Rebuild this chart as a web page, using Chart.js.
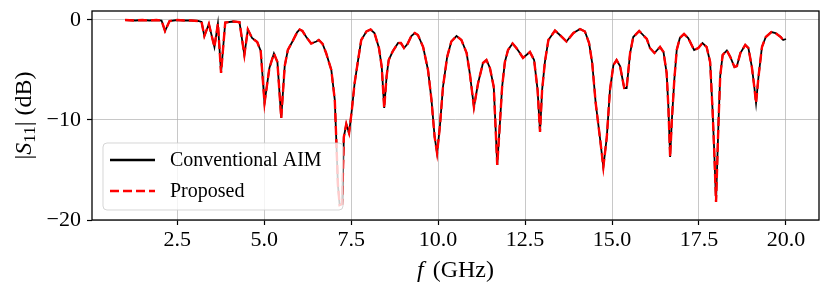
<!DOCTYPE html>
<html>
<head>
<meta charset="utf-8">
<script src="https://cdn.jsdelivr.net/npm/chart.js@4.4.1/dist/chart.umd.min.js"></script>
<style>
    html, body { margin: 0; padding: 0; background: #fff; }
    #wrap { width: 830px; height: 293px; }
</style>
</head>
<body>
<div id="wrap"><canvas id="s11Chart" width="830" height="293"></canvas></div>
<script>
// Frecuencias (GHz)
const freqs = [
    1.0, 1.3, 1.5, 1.7, 1.9, 2.05, 2.15, 2.28, 2.5, 2.7, 2.9, 3.1, 3.2, 3.28, 3.41, 3.57, 3.67, 3.76, 3.88, 4.1,
    4.29, 4.43, 4.53, 4.65, 4.8, 4.9, 5.01, 5.15, 5.28, 5.38, 5.49, 5.59, 5.68, 5.82, 5.95, 6.02, 6.1, 6.21, 6.35, 6.5,
    6.57, 6.68, 6.78, 6.93, 7.03, 7.07, 7.12, 7.17, 7.24, 7.29, 7.36, 7.44, 7.52, 7.6, 7.7, 7.79, 7.94, 8.06, 8.17, 8.3,
    8.38, 8.45, 8.52, 8.58, 8.7, 8.85, 8.93, 9.02, 9.12, 9.23, 9.33, 9.42, 9.57, 9.71, 9.81, 9.9, 9.97, 10.05, 10.14, 10.26,
    10.38, 10.53, 10.67, 10.82, 10.91, 11.03, 11.15, 11.29, 11.39, 11.49, 11.6, 11.7, 11.77, 11.84, 11.92, 12.01, 12.14, 12.25, 12.35, 12.44,
    12.64, 12.76, 12.86, 12.93, 12.99, 13.07, 13.17, 13.36, 13.5, 13.69, 13.89, 14.08, 14.22, 14.34, 14.43, 14.53, 14.65, 14.75, 14.85, 14.94,
    15.04, 15.13, 15.23, 15.35, 15.42, 15.52, 15.61, 15.78, 16.0, 16.09, 16.22, 16.38, 16.48, 16.57, 16.62, 16.67, 16.72, 16.79, 16.86, 16.95,
    17.07, 17.19, 17.36, 17.48, 17.6, 17.72, 17.82, 17.89, 17.94, 17.99, 18.06, 18.11, 18.18, 18.3, 18.4, 18.52, 18.59, 18.69, 18.83, 18.92,
    19.02, 19.09, 19.14, 19.21, 19.31, 19.42, 19.58, 19.7, 19.85, 19.92, 20.0
];

// |S11| en dB - AIM convencional
const conventional = [
    0.0, -0.05, 0.0, -0.05, 0.0, -0.05, -1.1, -0.1, 0.0, -0.05, -0.05, -0.1, -0.2, -1.6, -0.4, -2.7, -0.35, -5.3, -0.25, -0.15,
    -0.2, -3.5, -0.95, -1.8, -2.2, -3.1, -8.3, -4.8, -3.35, -4.2, -9.8, -4.6, -3.0, -2.1, -1.2, -0.95, -1.1, -1.7, -2.35, -2.15,
    -2.0, -2.4, -3.3, -5.0, -8.0, -11.7, -16.5, -18.5, -18.4, -11.7, -10.4, -11.3, -9.0, -6.3, -4.0, -2.0, -1.15, -0.95, -1.3, -2.8,
    -4.7, -8.8, -5.6, -4.0, -3.1, -2.3, -2.3, -2.8, -2.4, -1.6, -1.3, -1.5, -2.7, -5.0, -8.0, -11.7, -13.3, -10.7, -6.7, -3.7,
    -2.15, -1.6, -2.0, -3.3, -5.3, -8.7, -6.3, -4.3, -4.0, -4.8, -6.7, -14.5, -10.7, -6.7, -4.2, -3.0, -2.35, -2.8, -3.3, -3.8,
    -3.2, -4.0, -7.0, -11.2, -7.0, -4.2, -2.0, -1.05, -1.5, -2.15, -1.3, -0.9, -1.15, -2.3, -4.3, -8.3, -11.7, -14.7, -11.7, -7.0,
    -4.5, -4.0, -4.6, -6.8, -6.8, -3.3, -1.7, -1.1, -1.9, -2.8, -3.3, -2.7, -3.2, -5.3, -8.7, -13.7, -10.0, -6.0, -3.0, -1.8,
    -1.4, -1.8, -3.0, -2.8, -2.3, -2.7, -4.2, -9.0, -13.3, -18.2, -10.3, -5.6, -3.5, -3.05, -3.7, -4.7, -4.6, -3.3, -2.5, -2.8,
    -4.7, -6.7, -8.3, -5.7, -2.7, -1.7, -1.2, -1.3, -1.7, -2.0, -1.9
];

// |S11| en dB - metodo propuesto (coincide con el convencional en la figura)
const proposed = [
    0.0, -0.05, 0.0, -0.05, 0.0, -0.05, -1.1, -0.1, 0.0, -0.05, -0.05, -0.1, -0.2, -1.6, -0.4, -2.7, -0.35, -5.3, -0.25, -0.15,
    -0.2, -3.5, -0.95, -1.8, -2.2, -3.1, -8.3, -4.8, -3.35, -4.2, -9.8, -4.6, -3.0, -2.1, -1.2, -0.95, -1.1, -1.7, -2.35, -2.15,
    -2.0, -2.4, -3.3, -5.0, -8.0, -11.7, -16.5, -18.5, -18.4, -11.7, -10.4, -11.3, -9.0, -6.3, -4.0, -2.0, -1.15, -0.95, -1.3, -2.8,
    -4.7, -8.8, -5.6, -4.0, -3.1, -2.3, -2.3, -2.8, -2.4, -1.6, -1.3, -1.5, -2.7, -5.0, -8.0, -11.7, -13.3, -10.7, -6.7, -3.7,
    -2.15, -1.6, -2.0, -3.3, -5.3, -8.7, -6.3, -4.3, -4.0, -4.8, -6.7, -14.5, -10.7, -6.7, -4.2, -3.0, -2.35, -2.8, -3.3, -3.8,
    -3.2, -4.0, -7.0, -11.2, -7.0, -4.2, -2.0, -1.05, -1.5, -2.15, -1.3, -0.9, -1.15, -2.3, -4.3, -8.3, -11.7, -14.7, -11.7, -7.0,
    -4.5, -4.0, -4.6, -6.8, -6.8, -3.3, -1.7, -1.1, -1.9, -2.8, -3.3, -2.7, -3.2, -5.3, -8.7, -13.7, -10.0, -6.0, -3.0, -1.8,
    -1.4, -1.8, -3.0, -2.8, -2.3, -2.7, -4.2, -9.0, -13.3, -18.2, -10.3, -5.6, -3.5, -3.05, -3.7, -4.7, -4.6, -3.3, -2.5, -2.8,
    -4.7, -6.7, -8.3, -5.7, -2.7, -1.7, -1.2, -1.3, -1.7, -2.0, -1.9
];

const xTicks = [2.5, 5.0, 7.5, 10.0, 12.5, 15.0, 17.5, 20.0];
const yTicks = [-20, -10, 0];
const seriesLabels = ['Conventional AIM', 'Proposed'];

const SERIF = '"Liberation Serif", "DejaVu Serif", serif';

function toPoints(xs, ys) {
    return xs.map((x, i) => ({ x: x, y: ys[i] }));
}

// Marco, titulos de ejes y leyenda
const decorPlugin = {
    id: 'decor',
    afterDraw(chart) {
        const ctx = chart.ctx;
        const a = chart.chartArea;
        ctx.save();

        // marco completo
        ctx.strokeStyle = '#000';
        ctx.lineWidth = 1.3;
        ctx.strokeRect(a.left, a.top, a.right - a.left, a.bottom - a.top);

        ctx.fillStyle = '#000';
        ctx.textBaseline = 'alphabetic';

        // titulo eje x: f (GHz)
        const xParts = [
            { t: 'f', font: 'italic 24px ' + SERIF, extra: 9 },
            { t: '(GHz)', font: '24px ' + SERIF, extra: 0 }
        ];
        let w = 0;
        xParts.forEach(p => { ctx.font = p.font; p.w = ctx.measureText(p.t).width + p.extra; w += p.w; });
        let cx = (a.left + a.right) / 2 - w / 2;
        xParts.forEach(p => { ctx.font = p.font; ctx.fillText(p.t, cx, 277); cx += p.w; });

        // titulo eje y: |S11| (dB)
        ctx.save();
        ctx.translate(31, (a.top + a.bottom) / 2);
        ctx.rotate(-Math.PI / 2);
        const yParts = [
            { t: '|', font: '24px ' + SERIF, dy: 0 },
            { t: 'S', font: 'italic 24px ' + SERIF, dy: 0 },
            { t: '11', font: '17px ' + SERIF, dy: 4 },
            { t: '|', font: '24px ' + SERIF, dy: 0 },
            { t: ' (dB)', font: '24px ' + SERIF, dy: 0 }
        ];
        w = 0;
        yParts.forEach(p => { ctx.font = p.font; p.w = ctx.measureText(p.t).width; w += p.w; });
        cx = -w / 2;
        yParts.forEach(p => { ctx.font = p.font; ctx.fillText(p.t, cx, p.dy); cx += p.w; });
        ctx.restore();

        // leyenda
        const lx = 103, ly = 143, lw = 240, lh = 67;
        ctx.beginPath();
        ctx.roundRect(lx, ly, lw, lh, 4);
        ctx.fillStyle = 'rgba(255,255,255,0.8)';
        ctx.fill();
        ctx.strokeStyle = 'rgba(204,204,204,0.8)';
        ctx.lineWidth = 1;
        ctx.stroke();

        const rows = [
            { y: 160, color: '#000', dash: [] },
            { y: 191, color: '#ff0000', dash: [9, 4] }
        ];
        rows.forEach((r, i) => {
            ctx.beginPath();
            ctx.setLineDash(r.dash);
            ctx.strokeStyle = r.color;
            ctx.lineWidth = 2.4;
            ctx.moveTo(110, r.y);
            ctx.lineTo(155, r.y);
            ctx.stroke();
            ctx.setLineDash([]);
            ctx.fillStyle = '#000';
            ctx.font = '20px ' + SERIF;
            ctx.textBaseline = 'middle';
            ctx.fillText(seriesLabels[i], 170, r.y + 1);
        });
        ctx.restore();
    }
};

new Chart(document.getElementById('s11Chart'), {
    type: 'line',
    data: {
        datasets: [
            {
                label: seriesLabels[0],
                data: toPoints(freqs, conventional),
                borderColor: '#000000',
                borderWidth: 1.8,
                pointRadius: 0,
                tension: 0,
                order: 2
            },
            {
                label: seriesLabels[1],
                data: toPoints(freqs, proposed),
                borderColor: '#ff0000',
                borderWidth: 2.4,
                borderDash: [9, 4],
                pointRadius: 0,
                tension: 0,
                order: 1
            }
        ]
    },
    options: {
        responsive: false,
        animation: false,
        layout: { padding: { left: 0, top: 11, right: 11, bottom: 0 } },
        plugins: {
            legend: { display: false },
            tooltip: { enabled: false }
        },
        scales: {
            x: {
                type: 'linear',
                min: 0.05,
                max: 20.95,
                afterFit: s => { s.height = 73; s.paddingLeft = 0; s.paddingRight = 0; },
                afterBuildTicks: s => { s.ticks = xTicks.map(v => ({ value: v })); },
                border: { display: false },
                grid: {
                    color: 'rgba(176,176,176,0.7)',
                    lineWidth: 1,
                    tickColor: '#000',
                    tickLength: 5,
                    tickWidth: 1.2
                },
                ticks: {
                    color: '#000',
                    padding: 4,
                    maxRotation: 0,
                    font: { family: SERIF, size: 22, lineHeight: 1 },
                    callback: v => Number(v).toFixed(1)
                }
            },
            y: {
                min: -20,
                max: 0.9,
                afterFit: s => { s.width = 92; s.paddingTop = 0; s.paddingBottom = 0; },
                afterBuildTicks: s => { s.ticks = yTicks.map(v => ({ value: v })); },
                border: { display: false },
                grid: {
                    color: 'rgba(176,176,176,0.7)',
                    lineWidth: 1,
                    tickColor: '#000',
                    tickLength: 5,
                    tickWidth: 1.2
                },
                ticks: {
                    color: '#000',
                    padding: 6,
                    font: { family: SERIF, size: 22, lineHeight: 1 },
                    callback: v => (v < 0 ? '\u2212' + Math.abs(v) : String(v))
                }
            }
        }
    },
    plugins: [decorPlugin]
});
</script>
</body>
</html>
